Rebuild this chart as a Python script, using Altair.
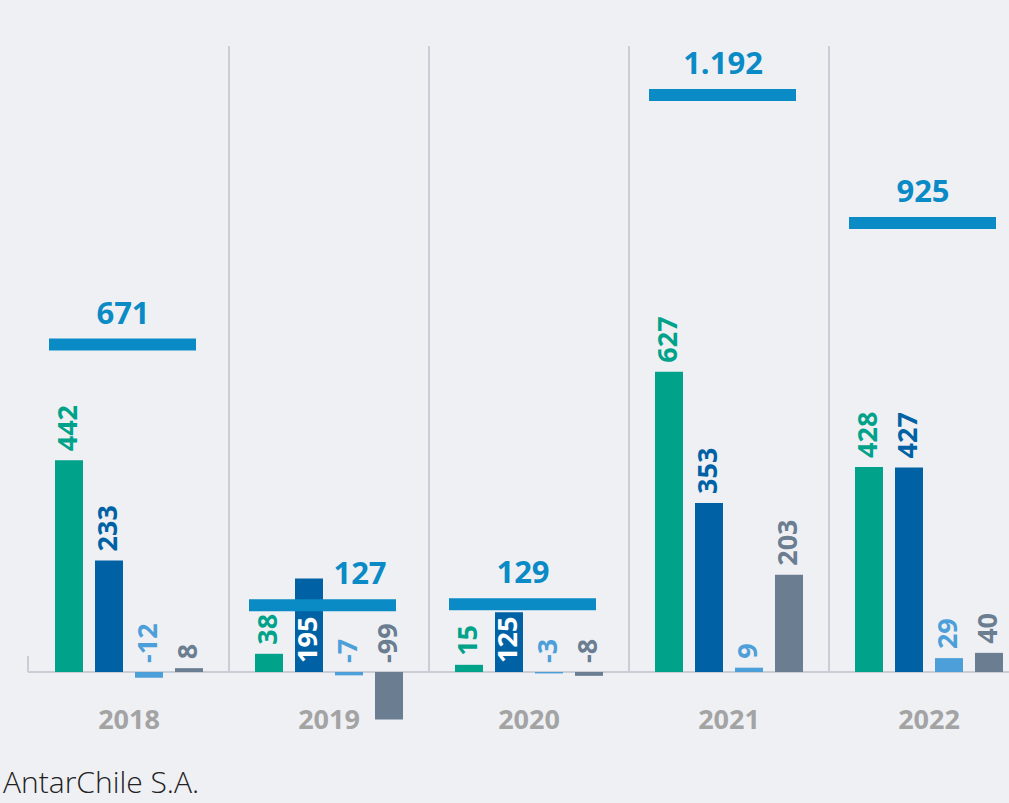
import altair as alt
import pandas as pd

years = ["2018", "2019", "2020", "2021", "2022"]
series = ["Serie 1", "Serie 2", "Serie 3", "Serie 4"]
serie1 = [442, 38, 15, 627, 428]
serie2 = [233, 195, 125, 353, 427]
serie3 = [-12, -7, -3, 9, 29]
serie4 = [8, -99, -8, 203, 40]
totals = [671, 127, 129, 1192, 925]
footer = "AntarChile S.A."

colors = ["#00a38a", "#0062a5", "#4d9fd9", "#6b7d90"]
total_color = "#0a8bc5"
grid_color = "#c9ced6"
bg = "#eff0f4"
FONT = "Open Sans"

rows = []
for i, y in enumerate(years):
    for s, vals in zip(series, [serie1, serie2, serie3, serie4]):
        rows.append({"year": y, "series": s, "value": vals[i], "total": totals[i]})
bars_df = pd.DataFrame(rows)
tot_df = pd.DataFrame({"year": years, "total": totals,
                       "label": [f"{t:,}".replace(",", ".") for t in totals]})

K = 0.479
ymax = 626 / K
ymin = -28 / K
yscale = alt.Scale(domain=[ymin, ymax], nice=False, zero=False)
xscale = alt.Scale(domain=years, range=[0, 1000], paddingInner=0, paddingOuter=0)
xaxis = alt.Axis(title=None, domain=False, ticks=False, labelFont=FONT, labelFontSize=27,
                 labelFontWeight="bold", labelColor="#a3a3a3", labelPadding=20,
                 labelBaseline="middle", labelAngle=0)


def X(**kw):
    return alt.X("year:N", scale=xscale, axis=xaxis, **kw)


color_scale = alt.Scale(domain=series, range=colors)
off_scale = alt.Scale(domain=series, paddingInner=0.3, paddingOuter=0.65)

base = alt.Chart(bars_df)

seps = alt.Chart(tot_df).transform_filter("datum.year != '2022'").mark_rule(
    color=grid_color, strokeWidth=2).encode(
    x=X(bandPosition=1),
    y=alt.Y(datum=ymax, scale=yscale, axis=None),
    y2=alt.Y2(datum=0))

baseline = alt.Chart(tot_df).mark_rule(color=grid_color, strokeWidth=2).encode(
    y=alt.Y(datum=0, scale=yscale, axis=None), x=alt.value(-1), x2=alt.value(980))
lefttick = alt.Chart(tot_df).mark_rule(color=grid_color, strokeWidth=2).encode(
    x=alt.value(-1), y=alt.Y(datum=0, scale=yscale, axis=None), y2=alt.value(610))

bars = base.mark_bar().encode(
    x=X(),
    xOffset=alt.XOffset("series:N", scale=off_scale, sort=series),
    y=alt.Y("value:Q", scale=yscale, axis=None),
    color=alt.Color("series:N", scale=color_scale, legend=None),
)

tot_rule = alt.Chart(tot_df).mark_rule(color=total_color, strokeWidth=12, yOffset=-6).encode(
    x=X(bandPosition=0.1), x2=alt.X2("year", bandPosition=0.835),
    y=alt.Y("total:Q", scale=yscale, axis=None))

tot_text_common = dict(font=FONT, fontSize=31, fontWeight="bold", color=total_color,
                       baseline="alphabetic", align="center", yOffset=-27)
tot_text = alt.Chart(tot_df).transform_filter("datum.year != '2019'").mark_text(
    **tot_text_common).encode(
    x=X(bandPosition=0.47), y=alt.Y("total:Q", scale=yscale, axis=None), text="label:N")
tot_text19 = alt.Chart(tot_df).transform_filter("datum.year == '2019'").mark_text(
    dx=37, **tot_text_common).encode(
    x=X(bandPosition=0.47), y=alt.Y("total:Q", scale=yscale, axis=None), text="label:N")

labels = base.transform_calculate(
    inside="datum.value > datum.total - 20",
    txt="toString(datum.value)",
).transform_calculate(
    ly="datum.inside ? 0 : max(datum.value, 0)"
).mark_text(angle=270, align="left", baseline="middle", font=FONT, fontSize=27,
            fontWeight="bold", yOffset=-9).encode(
    x=X(),
    xOffset=alt.XOffset("series:N", scale=off_scale, sort=series),
    y=alt.Y("ly:Q", scale=yscale, axis=None),
    text=alt.Text("txt:N"),
    color=alt.condition("datum.inside", alt.value("white"),
                        alt.Color("series:N", scale=color_scale, legend=None)),
)

foot = alt.Chart(pd.DataFrame({"t": [footer]})).mark_text(
    align="left", baseline="alphabetic", font=FONT, fontSize=30, fontWeight=300,
    color="#222222").encode(x=alt.value(-26), y=alt.value(747), text="t:N")

chart = alt.layer(seps, baseline, lefttick, bars, tot_rule, tot_text, tot_text19, labels, foot).properties(
    width=980, height=654,
    padding={"left": 29, "top": 46, "right": 0, "bottom": 103},
    autosize=alt.AutoSizeParams(type="none"),
    background=bg,
).configure_view(stroke=None)

chart.save("out.html", embed_options={"renderer": "svg", "actions": False})
